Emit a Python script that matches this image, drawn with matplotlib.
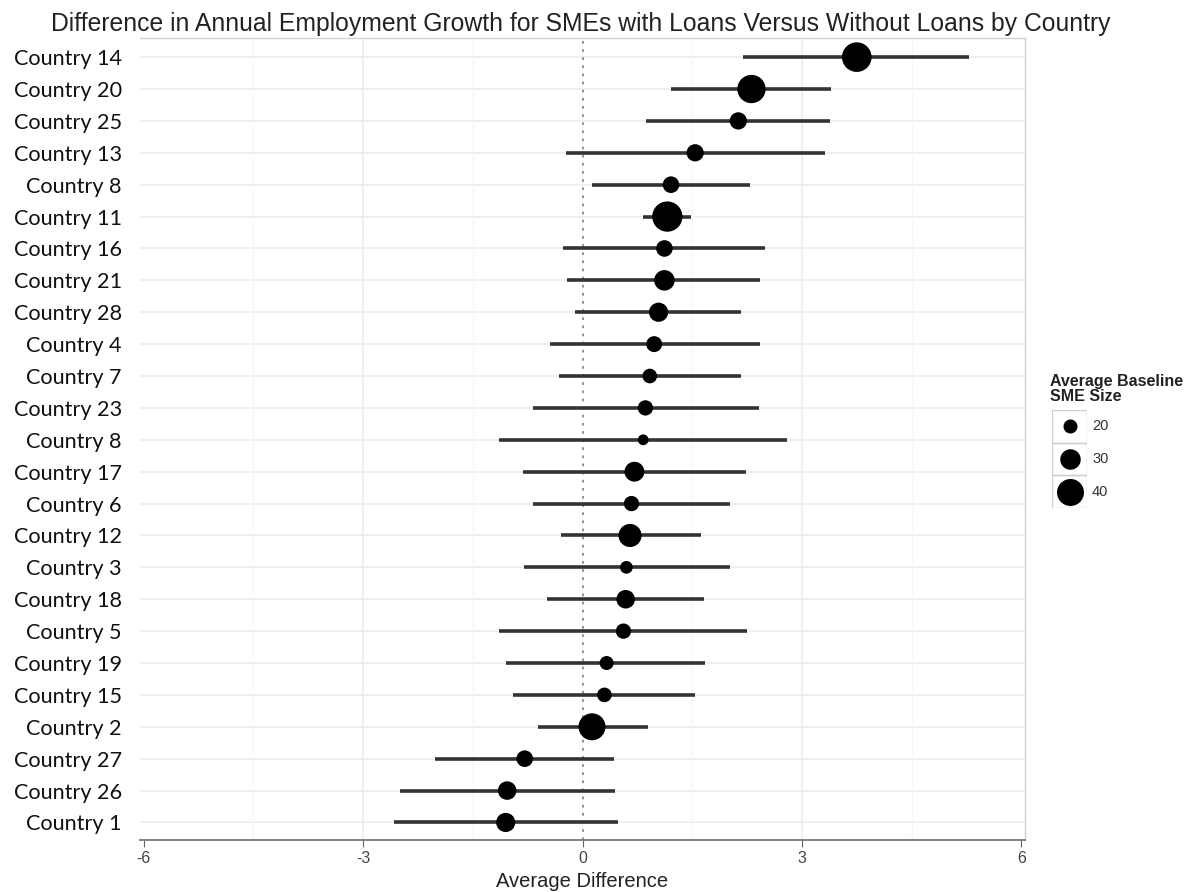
import numpy as np
import matplotlib
matplotlib.use("Agg")
import matplotlib.pyplot as plt
from matplotlib.patches import Rectangle

# Countries listed top to bottom as in the chart
countries = ["Country 14", "Country 20", "Country 25", "Country 13", "Country 8",
             "Country 11", "Country 16", "Country 21", "Country 28", "Country 4",
             "Country 7", "Country 23", "Country 8", "Country 17", "Country 6",
             "Country 12", "Country 3", "Country 18", "Country 5", "Country 19",
             "Country 15", "Country 2", "Country 27", "Country 26", "Country 1"]
avg_diff = [3.75, 2.31, 2.13, 1.54, 1.21, 1.16, 1.12, 1.12, 1.04, 0.98,
            0.92, 0.86, 0.83, 0.71, 0.67, 0.65, 0.60, 0.59, 0.56, 0.33,
            0.30, 0.13, -0.79, -1.03, -1.05]
ci_low = [2.20, 1.21, 0.87, -0.22, 0.13, 0.83, -0.26, -0.21, -0.10, -0.45,
          -0.32, -0.67, -1.14, -0.81, -0.67, -0.30, -0.80, -0.48, -1.14, -1.05,
          -0.95, -0.61, -2.01, -2.50, -2.58]
ci_high = [5.29, 3.40, 3.38, 3.32, 2.29, 1.49, 2.49, 2.43, 2.17, 2.42,
           2.17, 2.41, 2.80, 2.24, 2.02, 1.62, 2.02, 1.66, 2.25, 1.68,
           1.54, 0.90, 0.43, 0.45, 0.49]
sme_size = [44, 42, 25, 25, 24, 45, 24, 30, 28, 23,
            21, 22, 15, 29, 22, 34, 18, 27, 22, 20,
            21, 40, 24, 27, 28]
legend_sizes = [20, 30, 40]
xticks = [-6, -3, 0, 3, 6]

W, H = 1196, 892
fig = plt.figure(figsize=(W / 100, H / 100), dpi=100)
ax = fig.add_axes([140 / W, 52 / H, 885 / W, 802 / H])


def marker_area(v):
    d_px = 14 + 0.65 * (np.asarray(v, dtype=float) - 20)
    return (d_px * 0.72) ** 2


n = len(countries)
ypos = np.arange(n)[::-1]

# grid
for y in ypos:
    ax.axhline(y, color="#ececec", lw=1.2, zorder=0)
for gx in [-4.5, -1.5, 1.5, 4.5]:
    ax.axvline(gx, color="#f6f6f6", lw=1.0, zorder=0)
for gx in [-3, 3]:
    ax.axvline(gx, color="#ececec", lw=1.2, zorder=0)
ax.axvline(0, color="#888888", lw=1.3, ls=(0, (1.5, 3)), zorder=1)

ax.hlines(ypos, ci_low, ci_high, color="#333333", lw=2.6, zorder=2)
ax.scatter(avg_diff, ypos, s=marker_area(sme_size), color="black", zorder=3,
           linewidths=0)

ax.set_xlim(-6.05, 6.05)
ax.set_ylim(-0.55, n - 1 + 0.6)
ax.set_yticks(ypos)
ax.set_yticklabels(countries, family="Lato", fontsize=15.6, color="#111111")
ax.tick_params(axis="y", length=0, pad=13)
ax.set_xticks(xticks)
ax.set_xticklabels([str(t) for t in xticks], family="Liberation Sans",
                   fontsize=11.5, color="#444444")
ax.tick_params(axis="x", length=5, color="#666666", pad=3)
ax.set_xlabel("Average Difference", family="Liberation Sans", fontsize=14.5,
              color="#222222", labelpad=4)

for side in ["top", "right"]:
    ax.spines[side].set_color("#d0d0d0")
    ax.spines[side].set_linewidth(1.0)
ax.spines["left"].set_visible(False)
ax.spines["bottom"].set_color("#777777")
ax.spines["bottom"].set_linewidth(1.3)

fig.text(581 / W, 1 - 24 / H,
         "Difference in Annual Employment Growth for SMEs with Loans Versus Without Loans by Country",
         ha="center", va="center", family="Liberation Sans", fontsize=17.8,
         color="#222222")

# legend
fig.text(1050 / W, 1 - 389 / H, "Average Baseline\nSME Size", ha="left",
         va="center", family="Liberation Sans", fontsize=11.5, fontweight="bold",
         color="#222222", linespacing=1.0)
lax = fig.add_axes([1052 / W, 1 - 508 / H, 35 / W, 98 / H])
lax.set_xlim(0, 1)
lax.set_ylim(0, 3)
lax.axis("off")
for i, v in enumerate(legend_sizes):
    yk = 2 - i
    lax.add_patch(Rectangle((0, yk), 1, 1, fill=False, ec="#cfcfcf", lw=1.0))
    lax.scatter([0.5], [yk + 0.5], s=marker_area(v), color="black", linewidths=0)
    fig.text(1092 / W, 1 - (410 + 32.7 * (i + 0.5)) / H, str(v), ha="left",
             va="center", family="Liberation Sans", fontsize=10.5, color="#333333")

fig.savefig("out.png", dpi=100)
